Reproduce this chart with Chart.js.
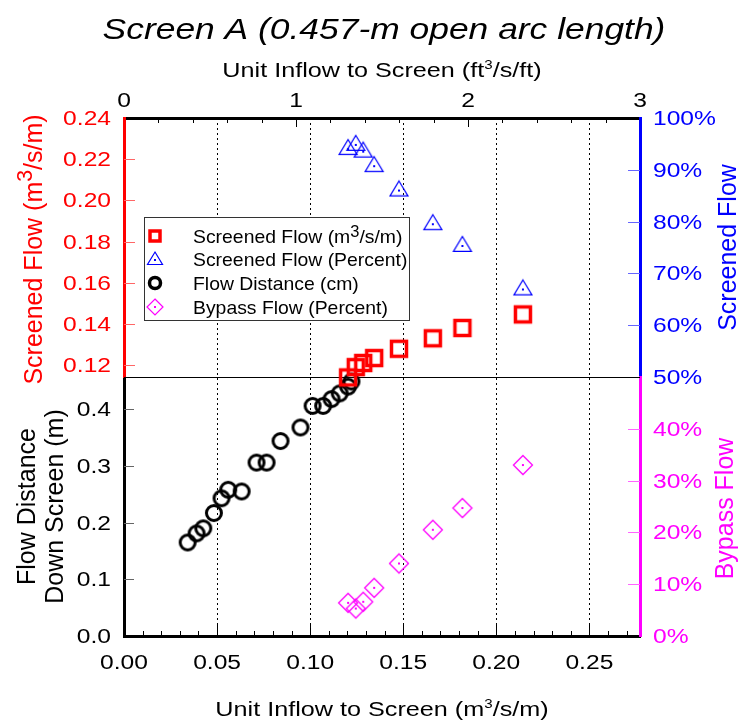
<!DOCTYPE html>
<html>
<head>
<meta charset="utf-8">
<title>Screen A</title>
<script src="https://cdn.jsdelivr.net/npm/chart.js@4.4.0/dist/chart.umd.min.js"></script>
<style>
  body { margin: 0; background: #fff; }
</style>
</head>
<body>
<canvas id="screenChart" width="741" height="722"></canvas>
<script>
// unit inflow to screen (m3/s/m) for the screened / bypass flow runs
var inflowQ      = [0.1204, 0.1245, 0.1285, 0.1344, 0.1477, 0.1659, 0.1818, 0.2143];
var screenedFlow = [0.1140, 0.1190, 0.1210, 0.1234, 0.1279, 0.1330, 0.1380, 0.1446];
var screenedPct  = [94.0, 94.8, 93.5, 90.7, 86.0, 79.5, 75.3, 66.9];
var bypassPct    = [6.4, 5.3, 6.6, 9.3, 14.0, 20.5, 24.7, 33.0];

// flow distance down the screen (m)
var distInflow   = [0.0342, 0.0390, 0.0426, 0.0483, 0.0524, 0.0560, 0.0632, 0.0712, 0.0766,
                    0.0841, 0.0948, 0.1013, 0.1070, 0.1115, 0.1159, 0.1204, 0.1222];
var flowDistance = [0.165, 0.181, 0.190, 0.217, 0.243, 0.258, 0.255, 0.306, 0.306,
                    0.344, 0.368, 0.406, 0.406, 0.418, 0.428, 0.440, 0.449];

// tick labels
var xTicks      = [0, 0.05, 0.10, 0.15, 0.20, 0.25];
var ftTicks     = [0, 1, 2, 3];
var flowTicks   = [0.12, 0.14, 0.16, 0.18, 0.20, 0.22, 0.24];
var distTicks   = [0, 0.1, 0.2, 0.3, 0.4];
var pctTicks    = [50, 60, 70, 80, 90, 100];
var bypassTicks = [0, 10, 20, 30, 40];

var FONT = "'Liberation Sans', Arial, Helvetica, sans-serif";

function pairs(xs, ys) {
    return xs.map(function(x, i) { return { x: x, y: ys[i] }; });
}

// small canvases used as point styles
function makeMarker(kind, size, lw) {
    var c = document.createElement('canvas');
    c.width = 26; c.height = 26;
    var g = c.getContext('2d');
    g.translate(13, 13);
    g.lineWidth = lw;
    if (kind === 'square') {
        g.strokeStyle = '#ff0000';
        g.strokeRect(-size / 2, -size / 2, size, size);
    } else if (kind === 'circle') {
        g.strokeStyle = '#000';
        g.beginPath(); g.arc(0, 0, size / 2, 0, Math.PI * 2); g.stroke();
    } else if (kind === 'triangle') {
        g.strokeStyle = '#0000ff';
        g.beginPath();
        g.moveTo(0, -size * 0.53); g.lineTo(size / 2, size * 0.3); g.lineTo(-size / 2, size * 0.3);
        g.closePath(); g.stroke();
        g.fillStyle = '#0000ff'; g.fillRect(-1, -1, 2, 2);
    } else if (kind === 'diamond') {
        g.strokeStyle = '#ff00ff';
        g.beginPath();
        g.moveTo(0, -size / 2); g.lineTo(size / 2, 0); g.lineTo(0, size / 2); g.lineTo(-size / 2, 0);
        g.closePath(); g.stroke();
        g.fillStyle = '#ff00ff'; g.fillRect(-1, -1, 2, 2);
    }
    return c;
}

// text with optional superscripts, horizontally stretched like the original
function txt(ctx, parts, x, y, o) {
    ctx.save();
    ctx.translate(x, y);
    if (o.rotate) ctx.rotate(o.rotate);
    ctx.scale(o.sx || 1, 1);
    ctx.fillStyle = o.color || '#000';
    ctx.textBaseline = 'alphabetic';
    ctx.textAlign = 'left';
    var style = o.italic ? 'italic ' : '';
    var segs = parts.map(function(p) { return typeof p === 'string' ? { t: p } : p; });
    var total = 0;
    segs.forEach(function(s) {
        s.sz = s.sup ? o.size * (o.supScale || 0.6) : o.size;
        ctx.font = style + s.sz + 'px ' + FONT;
        s.w = ctx.measureText(s.t).width;
        total += s.w;
    });
    var cx = o.align === 'right' ? -total : (o.align === 'left' ? 0 : -total / 2);
    segs.forEach(function(s) {
        ctx.font = style + s.sz + 'px ' + FONT;
        ctx.fillText(s.t, cx, s.sup ? -o.size * (o.supRaise || 0.4) : 0);
        cx += s.w;
    });
    ctx.restore();
}

function line(ctx, x1, y1, x2, y2, color) {
    ctx.strokeStyle = color;
    ctx.lineWidth = 1;
    ctx.beginPath(); ctx.moveTo(x1, y1); ctx.lineTo(x2, y2); ctx.stroke();
}

var legendItems = [
    { marker: makeMarker('square', 10, 3.5),   parts: ['Screened Flow (m', { t: '3', sup: true }, '/s/m)'] },
    { marker: makeMarker('triangle', 15, 1.2), parts: ['Screened Flow (Percent)'] },
    { marker: makeMarker('circle', 11, 3.5),   parts: ['Flow Distance (cm)'] },
    { marker: makeMarker('diamond', 16, 1.2),  parts: ['Bypass Flow (Percent)'] }
];

var decorPlugin = {
    id: 'decor',
    beforeDatasetsDraw: function(chart) {
        var ctx = chart.ctx, a = chart.chartArea, s = chart.scales;
        ctx.save();
        // divider between the two panels
        var ym = Math.round(s.yDist.top) + 0.5;
        line(ctx, a.left, ym, a.right, ym, '#000');

        // inner tick marks
        var i, p;
        for (i = 1; i * 0.01 < s.x.max - 0.001; i++) {
            p = Math.round(s.x.getPixelForValue(i * 0.01)) + 0.5;
            line(ctx, p, a.bottom, p, a.bottom - (i % 5 === 0 ? 11 : 5), '#000');
        }
        for (i = 1; i < 15; i++) {
            p = Math.round(s.x2.getPixelForValue(i * 0.2)) + 0.5;
            line(ctx, p, a.top, p, a.top + (i % 5 === 0 ? 9 : 5), '#000');
        }
        flowTicks.slice(0, -1).forEach(function(v) {
            p = Math.round(s.yFlow.getPixelForValue(v)) + 0.5;
            line(ctx, a.left, p, a.left + 11, p, '#ff6666');
        });
        distTicks.slice(1).forEach(function(v) {
            p = Math.round(s.yDist.getPixelForValue(v)) + 0.5;
            line(ctx, a.left, p, a.left + 10, p, '#666');
        });
        pctTicks.slice(1, -1).forEach(function(v) {
            p = Math.round(s.yPct.getPixelForValue(v)) + 0.5;
            line(ctx, a.right, p, a.right - 12, p, '#6666ff');
        });
        bypassTicks.slice(1).forEach(function(v) {
            p = Math.round(s.yBypass.getPixelForValue(v)) + 0.5;
            line(ctx, a.right, p, a.right - 12, p, '#ff66ff');
        });
        ctx.restore();
    },
    afterDraw: function(chart) {
        var ctx = chart.ctx, a = chart.chartArea, s = chart.scales;
        var cx = (a.left + a.right) / 2;
        var tk = { size: 20, sx: 1.23 };

        // title and axis titles
        txt(ctx, ['Screen A (0.457-m open arc length)'], 384, 39, { size: 30, sx: 1.18, italic: true });
        txt(ctx, ['Unit Inflow to Screen (ft', { t: '3', sup: true }, '/s/ft)'], cx, 77, { size: 21, sx: 1.2 });
        txt(ctx, ['Unit Inflow to Screen (m', { t: '3', sup: true }, '/s/m)'], cx, 716, { size: 21, sx: 1.2 });

        var up = -Math.PI / 2;
        txt(ctx, ['Screened Flow (m', { t: '3', sup: true }, '/s/m)'], 42, (s.yFlow.top + s.yFlow.bottom) / 2 + 2,
            { size: 25, rotate: up, color: '#ff0000', supScale: 0.85, supRaise: 0.42 });
        txt(ctx, ['Flow Distance'], 35, (s.yDist.top + s.yDist.bottom) / 2, { size: 25, rotate: up });
        txt(ctx, ['Down Screen (m)'], 63, (s.yDist.top + s.yDist.bottom) / 2, { size: 25, rotate: up });
        txt(ctx, ['Screened Flow'], 736, (s.yPct.top + s.yPct.bottom) / 2, { size: 25, rotate: up, color: '#0000ff' });
        txt(ctx, ['Bypass Flow'], 733, (s.yBypass.top + s.yBypass.bottom) / 2 + 2, { size: 25, rotate: up, color: '#ff00ff' });

        // tick labels
        xTicks.forEach(function(v) {
            txt(ctx, [v.toFixed(2)], s.x.getPixelForValue(v), 669, { size: tk.size, sx: tk.sx });
        });
        ftTicks.forEach(function(v) {
            txt(ctx, [String(v)], s.x2.getPixelForValue(v), 107, { size: tk.size, sx: tk.sx });
        });
        flowTicks.forEach(function(v) {
            txt(ctx, [v.toFixed(2)], 111, s.yFlow.getPixelForValue(v) + 7, { size: tk.size, sx: tk.sx, align: 'right', color: '#ff0000' });
        });
        distTicks.forEach(function(v) {
            txt(ctx, [v.toFixed(1)], 111, s.yDist.getPixelForValue(v) + 7, { size: tk.size, sx: tk.sx, align: 'right' });
        });
        pctTicks.forEach(function(v) {
            txt(ctx, [v + '%'], 653, s.yPct.getPixelForValue(v) + 7, { size: tk.size, sx: tk.sx, align: 'left', color: '#0000ff' });
        });
        bypassTicks.forEach(function(v) {
            txt(ctx, [v + '%'], 653, s.yBypass.getPixelForValue(v) + 7, { size: tk.size, sx: tk.sx, align: 'left', color: '#ff00ff' });
        });

        // legend box
        ctx.save();
        ctx.fillStyle = '#fff';
        ctx.fillRect(144, 217, 265, 103);
        ctx.strokeStyle = '#333';
        ctx.lineWidth = 1;
        ctx.strokeRect(144.5, 217.5, 265, 103);
        legendItems.forEach(function(item, i) {
            var y = 236 + i * 23.6;
            ctx.drawImage(item.marker, 155 - 13, Math.round(y) - 13);
            txt(ctx, item.parts, 193, y + 6.8, { size: 19, sx: 1.02, align: 'left', supScale: 0.85, supRaise: 0.3 });
        });
        ctx.restore();
    }
};

function hiddenAxis(extra) {
    var base = {
        type: 'linear',
        ticks: { display: false },
        grid: { display: false, drawTicks: false },
        afterFit: function(scale) {
            if (scale.isHorizontal()) scale.height = 0; else scale.width = 0;
        }
    };
    return Object.assign(base, extra);
}

var ctx = document.getElementById('screenChart').getContext('2d');
var screenChart = new Chart(ctx, {
    type: 'scatter',
    data: {
        datasets: [{
            label: 'Screened Flow (m³/s/m)',
            data: pairs(inflowQ, screenedFlow),
            yAxisID: 'yFlow',
            pointStyle: makeMarker('square', 15, 3.5),
            clip: false
        }, {
            label: 'Screened Flow (Percent)',
            data: pairs(inflowQ, screenedPct),
            yAxisID: 'yPct',
            pointStyle: makeMarker('triangle', 18, 1.2),
            clip: false
        }, {
            label: 'Flow Distance (cm)',
            data: pairs(distInflow, flowDistance),
            yAxisID: 'yDist',
            pointStyle: makeMarker('circle', 15, 3),
            clip: false
        }, {
            label: 'Bypass Flow (Percent)',
            data: pairs(inflowQ, bypassPct),
            yAxisID: 'yBypass',
            pointStyle: makeMarker('diamond', 19, 1.3),
            clip: false
        }]
    },
    options: {
        responsive: false,
        animation: false,
        events: [],
        layout: { padding: { left: 124, right: 101, top: 118, bottom: 86 } },
        plugins: {
            legend: { display: false },
            tooltip: { enabled: false },
            title: { display: false }
        },
        scales: {
            x: hiddenAxis({
                position: 'bottom', min: 0, max: 0.2772,
                afterBuildTicks: function(scale) {
                    scale.ticks = xTicks.map(function(v) { return { value: v }; });
                },
                grid: {
                    display: true, drawTicks: false, lineWidth: 1,
                    color: function(c) { return c.tick && c.tick.value > 0 ? '#000' : 'rgba(0,0,0,0)'; }
                },
                border: { color: '#000', width: 3, dash: [2, 3] }
            }),
            x2: hiddenAxis({
                position: 'top', min: 0, max: 3,
                border: { color: '#000', width: 3 }
            }),
            yDist: hiddenAxis({
                position: 'left', stack: 'left', min: 0, max: 0.457,
                border: { color: '#000', width: 3 }
            }),
            yFlow: hiddenAxis({
                position: 'left', stack: 'left', min: 0.1142, max: 0.24,
                border: { color: '#ff0000', width: 3 }
            }),
            yPct: hiddenAxis({
                position: 'right', stack: 'right', min: 50, max: 100,
                border: { color: '#0000ff', width: 3 }
            }),
            yBypass: hiddenAxis({
                position: 'right', stack: 'right', min: 0, max: 50,
                border: { color: '#ff00ff', width: 3 }
            })
        }
    },
    plugins: [decorPlugin]
});
</script>
</body>
</html>
